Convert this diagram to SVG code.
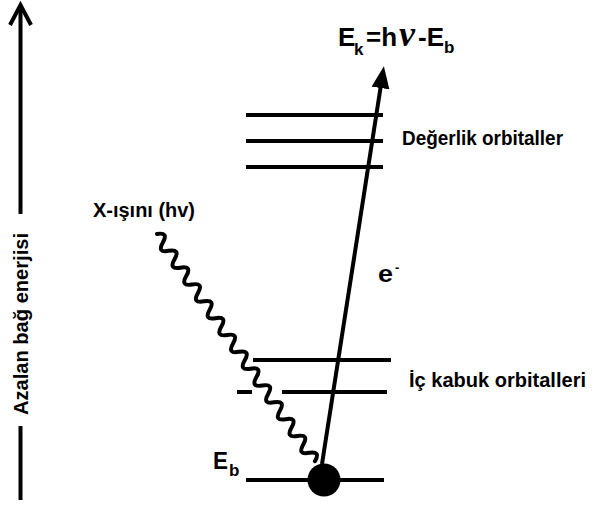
<svg xmlns="http://www.w3.org/2000/svg" width="593" height="505" viewBox="0 0 593 505">
<style>
.t{font-family:"Liberation Sans",Arial,sans-serif;font-weight:bold;fill:#000}
.lvl{stroke:#000;stroke-width:4;fill:none}
.ln{stroke:#000;stroke-width:4;fill:none}
</style>
<defs>
<marker id="ah" viewBox="0 0 22 18" refX="2" refY="9" markerWidth="22" markerHeight="18" markerUnits="userSpaceOnUse" orient="auto">
<path d="M0,0 L22,9 L0,18 z" fill="#000"/>
</marker>
</defs>
<rect width="593" height="505" fill="#fff"/>
<g id="energy-axis">
<line class="ln" x1="20.5" y1="6" x2="20.5" y2="214"/>
<polyline class="ln" points="10,25 20.5,5 31,25"/>
<line class="ln" x1="20.5" y1="426" x2="20.5" y2="500"/>
<text class="t" font-size="20" transform="translate(27.5,415) rotate(-90)" textLength="182" lengthAdjust="spacingAndGlyphs">Azalan bağ enerjisi</text>
</g>
<g id="valence-orbitals">
<line class="lvl" x1="246" y1="115" x2="383" y2="115"/>
<line class="lvl" x1="246" y1="141" x2="383" y2="141"/>
<line class="lvl" x1="246" y1="167" x2="383" y2="167"/>
<text class="t" font-size="20" x="402" y="145" textLength="161" lengthAdjust="spacingAndGlyphs">Değerlik orbitaller</text>
</g>
<g id="inner-orbitals">
<line class="lvl" x1="253" y1="360" x2="391" y2="360"/>
<line class="lvl" x1="237" y1="392" x2="252" y2="392"/>
<line class="lvl" x1="282" y1="392" x2="387" y2="392"/>
<text class="t" font-size="20" x="409" y="387" textLength="177" lengthAdjust="spacingAndGlyphs">İç kabuk orbitalleri</text>
</g>
<g id="core-level">
<line class="lvl" x1="246" y1="480" x2="384" y2="480"/>
<circle cx="324" cy="480" r="16.5" fill="#000"/>
<text class="t" font-size="24" x="213" y="469" textLength="15" lengthAdjust="spacingAndGlyphs">E</text>
<text class="t" font-size="17" x="229" y="476">b</text>
</g>
<g id="connectors">
<path class="ln" stroke-width="3.5" stroke-linecap="round" stroke-linejoin="round" transform="translate(157,234) rotate(55.2)" d="M0,0 q5.1,-11 10.25,0 t10.25,0 t10.25,0 t10.25,0 t10.25,0 t10.25,0 t10.25,0 t10.25,0 t10.25,0 t10.25,0 t10.25,0 t10.25,0 t10.25,0 t10.25,0 t10.25,0 t10.25,0 t10.25,0 t10.25,0 t10.25,0 t10.25,0 t10.25,0 t10.25,0 t10.25,0 t10.25,0 t10.25,0 t10.25,0 t10.25,0"/>
<line class="ln" x1="322" y1="464" x2="380.8" y2="86" marker-end="url(#ah)"/>
</g>
<g id="labels">
<text class="t" font-size="20" x="93" y="217" textLength="102" lengthAdjust="spacingAndGlyphs">X-ışını (hv)</text>
<text class="t" font-size="23" x="378" y="282" textLength="15" lengthAdjust="spacingAndGlyphs">e</text>
<text class="t" font-size="13" x="395" y="272">-</text>
<text class="t" font-size="26" y="46"><tspan x="338">E</tspan><tspan x="354" y="55" font-size="17">k</tspan><tspan x="366" y="46">=h</tspan><tspan x="399" font-family="Liberation Serif,serif" font-style="italic" font-size="36">ν</tspan><tspan x="418">-E</tspan><tspan x="444" y="53" font-size="17">b</tspan></text>
</g>
</svg>
